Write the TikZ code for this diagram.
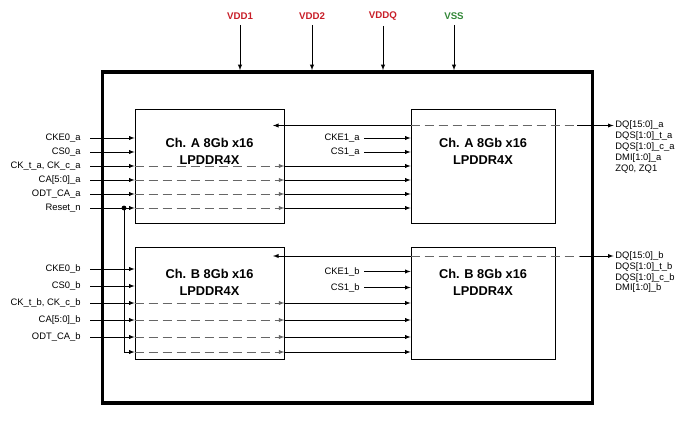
\documentclass[tikz,border=0pt]{standalone}
\usepackage{fontspec}
\setmainfont{Liberation Sans}
\usepackage{tikz}
\usetikzlibrary{calc}
\usetikzlibrary{arrows}
\usepackage{xcolor}
\definecolor{vddred}{RGB}{200,30,40}
\definecolor{vssgreen}{RGB}{50,135,55}

\begin{document}
\begin{tikzpicture}[x=1pt,y=-1pt,>=latex,line width=0.9pt,
        chip/.style={draw,line width=0.8pt,inner sep=0pt},
        chiptxt/.style={align=center,inner sep=0pt,font=\fontsize{12.8}{16.5}\selectfont\bfseries},
        sig/.style={inner sep=0pt,text height=6.8pt,text depth=1.8pt,font=\fontsize{9.4}{11}\selectfont},
        pwr/.style={inner sep=0pt,font=\fontsize{9.7}{11}\selectfont\bfseries},
        dsh/.style={draw=black!60,dash pattern=on 9pt off 5pt}]
        \useasboundingbox (0,0) rectangle (690,430);
        \node[draw,line width=3.5pt,minimum width=490,minimum height=331,inner sep=0pt] (pkg) at (347.5,237.5) {};

        \node[chip,minimum width=149,minimum height=114] (al) at (209.5,166) {};
        \node[chip,minimum width=144,minimum height=114] (ar) at (483,166) {};
        \node[chip,minimum width=149,minimum height=112] (bl) at (209.5,303) {};
        \node[chip,minimum width=144,minimum height=112] (br) at (483,303) {};
        \node[chiptxt] (altxt) at ($(al.north)+(0,43)$) {Ch. A 8Gb x16\\LPDDR4X};
        \node[chiptxt] (artxt) at ($(ar.north)+(0,43)$) {Ch. A 8Gb x16\\LPDDR4X};
        \node[chiptxt] (bltxt) at ($(bl.north)+(0,36)$) {Ch. B 8Gb x16\\LPDDR4X};
        \node[chiptxt] (brtxt) at ($(br.north)+(0,36)$) {Ch. B 8Gb x16\\LPDDR4X};

        \foreach \v/\x/\c in {VDD1/240/vddred, VDD2/312/vddred, VDDQ/383/vddred, VSS/454/vssgreen}{
            \node[pwr,text=\c] (\v) at (\x,16) {\v};
            \draw[->] ([yshift=-5pt]\v.south) -- (\v |- pkg.north);
        }

        \foreach \t/\y [count=\i] in {CKE0\_a/138, CS0\_a/152, {CK\_t\_a, CK\_c\_a}/166, CA[5:0]\_a/180, ODT\_CA\_a/194, Reset\_n/208}{
            \node[sig,anchor=east] (la\i) at (81,\y) {\t};
            \draw[->] ([xshift=9pt]la\i.east) -- (la\i -| al.west);
        }
        \foreach \t/\y [count=\i] in {CKE0\_b/269, CS0\_b/286, {CK\_t\_b, CK\_c\_b}/303, CA[5:0]\_b/320, ODT\_CA\_b/337}{
            \node[sig,anchor=east] (lb\i) at (81,\y) {\t};
            \draw[->] ([xshift=9pt]lb\i.east) -- (lb\i -| bl.west);
        }
        \coordinate (rst) at (124,208);
        \coordinate (rstb) at (124,352);
        \fill (rst) circle (2.4pt);
        \draw[->] (rst) -- (rstb) -- (rstb -| bl.west);

        \foreach \p in {la3,la4,la5,la6}{
            \draw[dsh,->] (\p -| al.west) -- (\p -| al.east);
            \draw[->] (\p -| al.east) -- (\p -| ar.west);
        }
        \foreach \p in {lb3,lb4,lb5,rstb}{
            \draw[dsh,->] (\p -| bl.west) -- (\p -| bl.east);
            \draw[->] (\p -| bl.east) -- (\p -| br.west);
        }

        \foreach \t/\y/\n/\b in {CKE1\_a/138/cke1a/ar, CS1\_a/152/cs1a/ar, CKE1\_b/271.5/cke1b/br, CS1\_b/287.5/cs1b/br}{
            \node[sig,anchor=east] (\n) at (360,\y) {\t};
            \draw[->] ([xshift=4pt]\n.east) -- (\n -| \b.west);
        }

        \foreach \t [count=\i from 0] in {DQ[15:0]\_a, DQS[1:0]\_t\_a, DQS[1:0]\_c\_a, DMI[1:0]\_a, {ZQ0, ZQ1}}
            \node[sig,anchor=west] (pa\i) at (615,125.5+10.8*\i) {\t};
        \foreach \t [count=\i from 0] in {DQ[15:0]\_b, DQS[1:0]\_t\_b, DQS[1:0]\_c\_b, DMI[1:0]\_b}
            \node[sig,anchor=west] (pb\i) at (615,256+10.8*\i) {\t};

        \coordinate (dqa) at (273,125.5);
        \coordinate (dqae) at (577,125.5);
        \draw[<-] (dqa) -- (dqa -| ar.west);
        \draw[dsh] (dqa -| ar.west) -- (dqae);
        \draw[->] (dqae) -- ([xshift=-1.5pt]pa0.west);
        \coordinate (dqb) at (273,256);
        \coordinate (dqbe) at (580,256);
        \draw[<-] (dqb) -- (dqb -| br.west);
        \draw[dsh] (dqb -| br.west) -- (dqbe);
        \draw[->] (dqbe) -- ([xshift=-1.5pt]pb0.west);
\end{tikzpicture}
\end{document}
